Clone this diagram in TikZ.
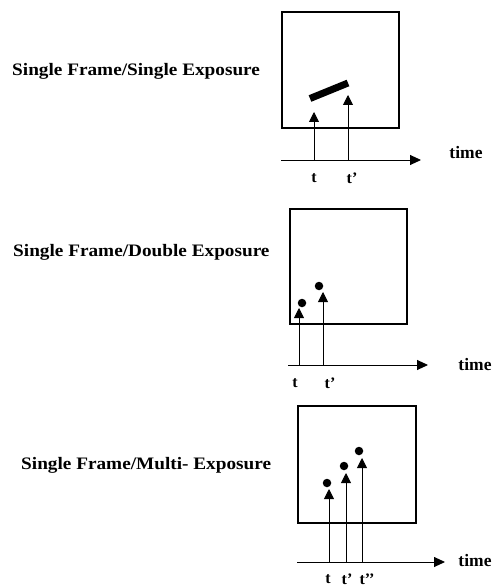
\documentclass[tikz,border=0pt]{standalone}
\usepackage{fontspec}
\setmainfont{Liberation Serif}
\usetikzlibrary{arrows.meta}
\tikzset{
  frame/.style={draw=black, line width=2.6pt},
  axis/.style={draw=black, line width=0.9pt, -{Triangle[width=10pt,length=11pt]}},
  stem/.style={draw=black, line width=0.9pt, -{Triangle[width=10pt,length=10pt]}},
  title/.style={anchor=west, inner sep=0pt, font=\bfseries\fontsize{17.5}{17.5}\selectfont},
  tlab/.style={inner sep=0pt, font=\bfseries\fontsize{16}{16}\selectfont},
  timelab/.style={inner sep=0pt, font=\bfseries\fontsize{17.5}{17.5}\selectfont},
  dot/.style={circle, fill=black, inner sep=0pt, minimum size=8.5pt},
}
\begin{document}
\begin{tikzpicture}[x=1pt,y=-1pt]
\useasboundingbox (0,0) rectangle (494,588);
% ---------- Panel 1 ----------
\node[title] (T1) at (12,71) {\scalebox{1.1}[1]{Single Frame/Single Exposure}};
\node[frame, minimum width=117pt, minimum height=116pt, inner sep=0pt] (F1) at (340.5,70) {};
\draw[black, line width=7pt] (310,98.5) -- (348,83);
\coordinate (A1s) at (281,160); \coordinate (A1e) at (421,160);
\draw[axis] (A1s) -- (A1e);
\node[timelab] (time1) at (466,153) {time};
\coordinate (B1a) at (314,160); \coordinate (E1a) at (314,112);
\coordinate (B1b) at (348,160); \coordinate (E1b) at (348,95);
\draw[stem] (B1a) -- (E1a);
\draw[stem] (B1b) -- (E1b);
\node[tlab] (l1a) at (314,178) {t};
\node[tlab] (l1b) at (352,178) {t’};
% ---------- Panel 2 ----------
\node[title] (T2) at (13,252) {\scalebox{1.1}[1]{Single Frame/Double Exposure}};
\node[frame, minimum width=117pt, minimum height=115pt, inner sep=0pt] (F2) at (348.5,266.5) {};
\node[dot] (d2a) at (302,303) {};
\node[dot] (d2b) at (319,286) {};
\coordinate (A2s) at (288,365); \coordinate (A2e) at (428,365);
\draw[axis] (A2s) -- (A2e);
\node[timelab] (time2) at (475,365) {time};
\coordinate (B2a) at (299,365); \coordinate (E2a) at (299,308);
\coordinate (B2b) at (323,365); \coordinate (E2b) at (323,292);
\draw[stem] (B2a) -- (E2a);
\draw[stem] (B2b) -- (E2b);
\node[tlab] (l2a) at (295,383) {t};
\node[tlab] (l2b) at (330,383) {t’};
% ---------- Panel 3 ----------
\node[title] (T3) at (21,465) {\scalebox{1.1}[1]{Single Frame/Multi- Exposure}};
\node[frame, minimum width=118pt, minimum height=117pt, inner sep=0pt] (F3) at (357,464.5) {};
\node[dot] (d3a) at (327,483) {};
\node[dot] (d3b) at (344,466) {};
\node[dot] (d3c) at (359,451) {};
\coordinate (A3s) at (297,562); \coordinate (A3e) at (445,562);
\draw[axis] (A3s) -- (A3e);
\node[timelab] (time3) at (475,561) {time};
\coordinate (B3a) at (329,562); \coordinate (E3a) at (329,489);
\coordinate (B3b) at (346,562); \coordinate (E3b) at (346,473);
\coordinate (B3c) at (362,562); \coordinate (E3c) at (362,458);
\draw[stem] (B3a) -- (E3a);
\draw[stem] (B3b) -- (E3b);
\draw[stem] (B3c) -- (E3c);
\node[tlab] (l3a) at (328,579) {t};
\node[tlab] (l3b) at (347,579) {t’};
\node[tlab] (l3c) at (367,579) {t’’};
\end{tikzpicture}
\end{document}
